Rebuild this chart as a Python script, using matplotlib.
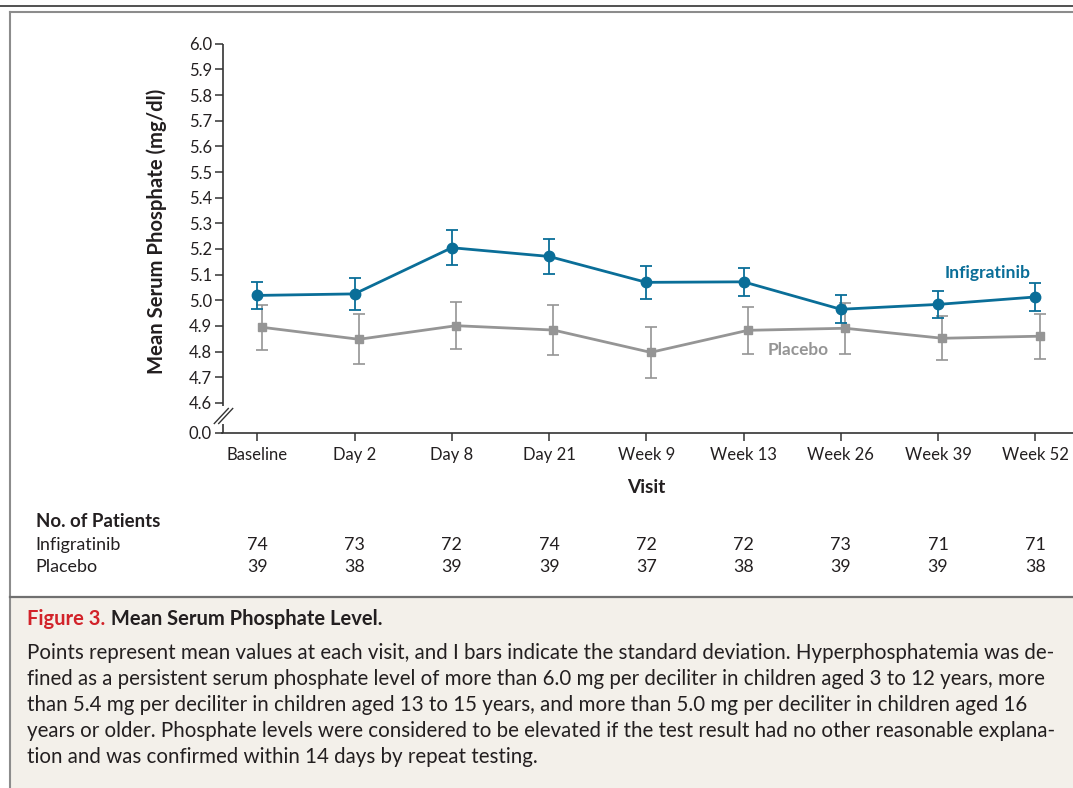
import matplotlib
matplotlib.use("Agg")
import matplotlib.pyplot as plt
import matplotlib.transforms as mtransforms
from matplotlib.lines import Line2D
from matplotlib.patches import Rectangle
import numpy as np

plt.rcParams['font.family'] = ['Lato', 'DejaVu Sans']

# ---------------- data ----------------
visits = ["Baseline", "Day 2", "Day 8", "Day 21", "Week 9", "Week 13", "Week 26", "Week 39", "Week 52"]
infig_mean = [5.019, 5.025, 5.205, 5.171, 5.070, 5.072, 4.965, 4.984, 5.013]
infig_sd = [0.053, 0.062, 0.069, 0.067, 0.065, 0.055, 0.054, 0.052, 0.054]
placebo_mean = [4.895, 4.848, 4.901, 4.884, 4.797, 4.883, 4.891, 4.852, 4.860]
placebo_sd = [0.087, 0.097, 0.091, 0.098, 0.100, 0.092, 0.099, 0.085, 0.088]
n_infig = [74, 73, 72, 74, 72, 72, 73, 71, 71]
n_placebo = [39, 38, 39, 39, 37, 38, 39, 39, 38]
ytick_vals = [4.6, 4.7, 4.8, 4.9, 5.0, 5.1, 5.2, 5.3, 5.4, 5.5, 5.6, 5.7, 5.8, 5.9, 6.0]
ytick_labels = ["4.6", "4.7", "4.8", "4.9", "5.0", "5.1", "5.2", "5.3", "5.4", "5.5",
                "5.6", "5.7", "5.8", "5.9", "6.0"]
break_label = "0.0"

caption_lines = [
    "Points represent mean values at each visit, and I bars indicate the standard deviation. Hyperphosphatemia was de-",
    "fined as a persistent serum phosphate level of more than 6.0 mg per deciliter in children aged 3 to 12 years, more",
    "than 5.4 mg per deciliter in children aged 13 to 15 years, and more than 5.0 mg per deciliter in children aged 16",
    "years or older. Phosphate levels were considered to be elevated if the test result had no other reasonable explana-",
    "tion and was confirmed within 14 days by repeat testing.",
]

# ---------------- style ----------------
W, H = 1073, 788
BLUE = "#0a6e98"
GRAY = "#959595"
DARK = "#231f20"
RED = "#d2232a"
BEIGE = "#f3f0ea"
FRAME = "#8c8c8c"

fig = plt.figure(figsize=(W / 100, H / 100), dpi=100)


def fx(x):
    return x / W


def fy(y):
    return 1 - y / H


# axes placement (pixels)
ax_l, ax_r, ax_t, ax_b = 222.5, 1073, 43.8, 432.7
ax = fig.add_axes([fx(ax_l), fy(ax_b), fx(ax_r - ax_l), (ax_b - ax_t) / H])
px_per_unit = 256.5
y_break_pos = 4.6 - (ax_b - 402.9) / px_per_unit
ax.set_ylim(y_break_pos, 6.0)
ax.set_xlim(-0.358, 8.388)
ax.patch.set_alpha(0)

x = np.arange(len(visits))
xp = x + 0.045

ax.errorbar(xp, placebo_mean, yerr=placebo_sd, fmt='-s', color=GRAY, lw=2.0, ms=5.5,
            capsize=4.0, elinewidth=1.2, capthick=1.2, zorder=3, clip_on=False)
ax.errorbar(x, infig_mean, yerr=infig_sd, fmt='-o', color=BLUE, lw=2.0, ms=7.5,
            capsize=4.5, elinewidth=1.3, capthick=1.3, zorder=4, clip_on=False)

# ticks
ax.set_yticks([y_break_pos] + ytick_vals)
ax.set_yticklabels([break_label] + ytick_labels, fontsize=12, color=DARK)
ax.set_xticks(x)
ax.set_xticklabels(visits, fontsize=12, color=DARK)
ax.tick_params(axis='y', length=5.5, width=1.1, color="#333333", pad=2)
ax.tick_params(axis='x', length=6, width=1.1, color="#333333", pad=4)

for s in ("top", "right", "left"):
    ax.spines[s].set_visible(False)
ax.spines["bottom"].set_linewidth(1.2)
ax.spines["bottom"].set_color("#333333")

# broken left axis (axes-fraction coordinates)
def yfrac(py):
    return (ax_b - py) / (ax_b - ax_t)

for y0, y1 in [(ax_t, 406.0), (424.0, ax_b)]:
    ax.add_line(Line2D([0, 0], [yfrac(y0), yfrac(y1)], transform=ax.transAxes,
                       color="#333333", lw=1.2, clip_on=False, solid_capstyle='butt'))
for off in (-2.2, 2.2):
    cx, cy = 223.5 + off, 416.0
    fig.add_artist(Line2D([fx(cx - 7), fx(cx + 7)], [fy(cy + 7.5), fy(cy - 7.5)],
                          color="#333333", lw=1.0))

# series labels
fig.text(fx(987.5), fy(273.3), "Infigratinib", color=BLUE, fontsize=12.6,
         fontweight='bold', ha='center', va='center')
fig.text(fx(797.7), fy(350), "Placebo", color=GRAY, fontsize=12.4,
         fontweight='bold', ha='center', va='center')

# axis labels
fig.text(fx(157), fy(231), "Mean Serum Phosphate (mg/dl)", rotation=90, fontsize=14.6,
         fontweight='bold', ha='center', va='center', color=DARK)
fig.text(fx(646), fy(487), "Visit", fontsize=13.8, fontweight='bold', ha='center',
         va='center', color=DARK)

# number at risk table
blend = mtransforms.blended_transform_factory(ax.transData, fig.transFigure)
fig.text(fx(35.7), fy(521.7), "No. of Patients", fontsize=13.4, fontweight='bold',
         ha='left', va='center', color=DARK)
fig.text(fx(35.7), fy(545), "Infigratinib", fontsize=12.9, ha='left', va='center', color=DARK)
fig.text(fx(35.7), fy(566.7), "Placebo", fontsize=12.9, ha='left', va='center', color=DARK)
for xi, a, b in zip(x, n_infig, n_placebo):
    ax.text(xi, fy(545), str(a), transform=blend, fontsize=12.9, ha='center',
            va='center', color=DARK)
    ax.text(xi, fy(566.7), str(b), transform=blend, fontsize=12.9, ha='center',
            va='center', color=DARK)

# frame and caption panel
fig.add_artist(Rectangle((fx(10), 0), 1 - fx(10), fy(596.5), transform=fig.transFigure,
                         facecolor=BEIGE, edgecolor='none', zorder=0))
fig.add_artist(Line2D([0, 1], [fy(5.7), fy(5.7)], color="#222222", lw=1.1))
fig.add_artist(Line2D([fx(10), 1], [fy(12.3), fy(12.3)], color=FRAME, lw=1.5))
fig.add_artist(Line2D([fx(10), fx(10)], [fy(12.3), 0], color=FRAME, lw=1.5))
fig.add_artist(Line2D([fx(10), 1], [fy(596.5), fy(596.5)], color="#707070", lw=1.6))

t1 = fig.text(fx(27.3), fy(625), "Figure 3.", fontsize=14.5, fontweight='bold',
              color=RED, ha='left', va='baseline')
ax.annotate(" Mean Serum Phosphate Level.", xy=(1, 0), xycoords=t1, ha='left',
            va='bottom', fontsize=14.5, fontweight='bold', color=DARK,
            annotation_clip=False)

baselines = [659, 685, 711, 737, 763]
for yb, line in zip(baselines, caption_lines):
    fig.text(fx(27.3), fy(yb), line, fontsize=14.8, color=DARK, ha='left', va='baseline')

fig.savefig("out.png", dpi=100)
